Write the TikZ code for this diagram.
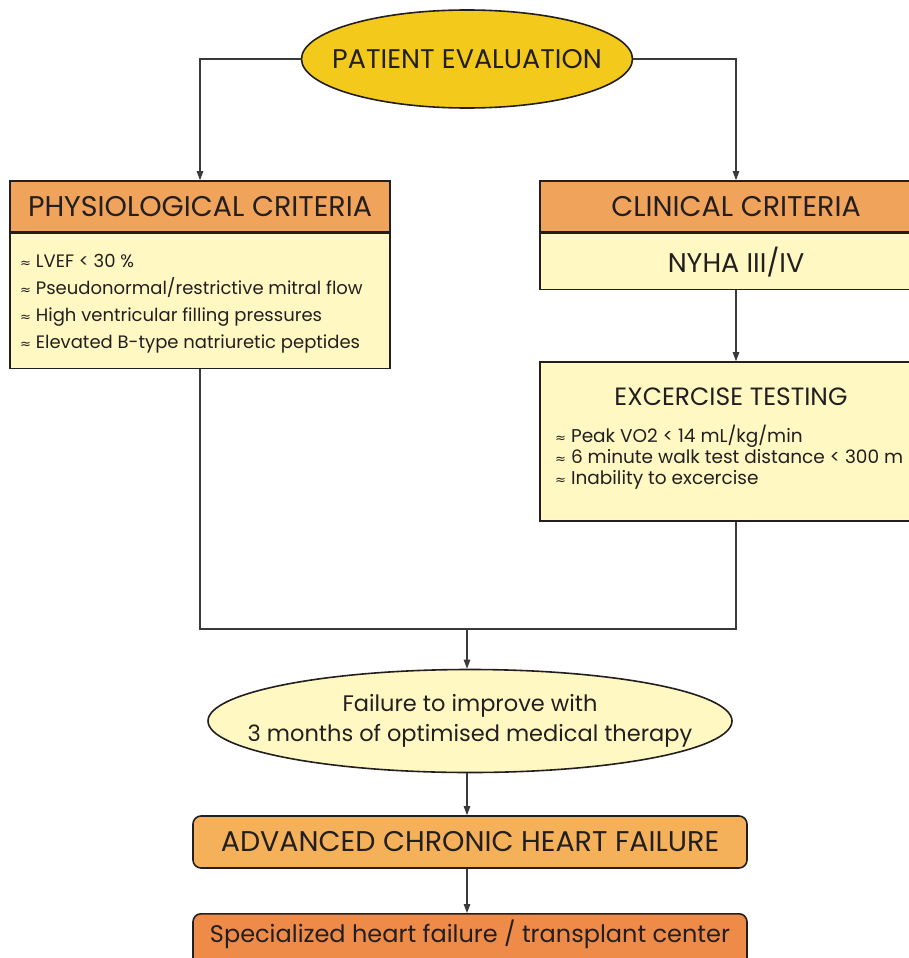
\documentclass[tikz,border=0pt]{standalone}
\usepackage{fontspec}
\setmainfont{Poppins}
\newfontfamily\symfont{DejaVu Sans}
\usetikzlibrary{shapes.geometric,arrows.meta,positioning,calc}
\definecolor{hfink}{HTML}{231F20}
\definecolor{hfline}{HTML}{3A3A3A}
\definecolor{hfgold}{HTML}{F3CA1C}
\definecolor{hforange}{HTML}{F0A35A}
\definecolor{hfcream}{HTML}{FFF8C2}
\definecolor{hfamber}{HTML}{F5B159}
\definecolor{hfrust}{HTML}{EE8B49}
\newcommand{\apx}{{\symfont\fontsize{13}{13}\selectfont ≈}\ }
\tikzset{
  evalnode/.style={ellipse,draw=hfink,line width=1.6pt,fill=hfgold,
                   minimum width=331,minimum height=98,inner xsep=-20pt,inner ysep=0pt,
                   font=\fontsize{27}{30}\selectfont,text=hfink},
  headbox/.style={rectangle,draw=hfink,line width=1.6pt,fill=hforange,
                  minimum height=51,inner sep=0pt,
                  font=\fontsize{28.5}{30}\selectfont,text=hfink},
  bodybox/.style={rectangle,draw=hfink,line width=1.6pt,fill=hfcream,
                  inner sep=0pt,text=hfink},
  itemtext/.style={align=left,inner sep=0pt,text=hfink},
  failnode/.style={ellipse,draw=hfink,line width=1.6pt,fill=hfcream,
                   minimum width=524,minimum height=103,inner xsep=-40pt,inner ysep=0pt,
                   align=center,font=\fontsize{22.5}{30}\selectfont,text=hfink},
  endbox/.style={rectangle,rounded corners=8pt,draw=hfink,line width=1.6pt,
                 minimum width=554,inner sep=0pt,text=hfink},
  flow/.style={-{Triangle[length=9pt,width=6.5pt]},line width=1.1pt,draw=hfline},
  link/.style={line width=1.1pt,draw=hfline},
}
\begin{document}
\begin{tikzpicture}[x=1pt,y=1pt]
\clip (0,0) rectangle (909,-958);
\fill[white] (0,0) rectangle (909,-958);

% top of the chart
\node[evalnode] (eval) at (467,-59) {PATIENT EVALUATION};

% left column
\node[headbox,minimum width=380] (physhead) at (200,-206.5) {PHYSIOLOGICAL CRITERIA};
\node[bodybox,minimum width=380,minimum height=135,anchor=north] (physbody) at (physhead.south) {};
\node[itemtext,anchor=west,font=\fontsize{18}{27}\selectfont] (physlist) at (20,-304)
  {\apx LVEF < 30 \%\\
   \apx Pseudonormal/restrictive mitral flow\\
   \apx High ventricular filling pressures\\
   \apx Elevated B-type natriuretic peptides};

% right column
\node[headbox,minimum width=392] (clinhead) at (736,-206.5) {CLINICAL CRITERIA};
\node[bodybox,minimum width=392,minimum height=56,anchor=north,
      font=\fontsize{27}{30}\selectfont] (nyha) at (clinhead.south) {NYHA III/IV};
\node[bodybox,minimum width=392,minimum height=159] (exbox) at (736,-441.5) {};
\node[font=\fontsize{25}{30}\selectfont,text=hfink] (extitle) at (731,-397) {EXCERCISE TESTING};
\node[itemtext,anchor=north west,font=\fontsize{18.5}{21}\selectfont] (exlist) at (555,-425)
  {\apx Peak VO2 < 14 mL/kg/min\\
   \apx 6 minute walk test distance < 300 m\\
   \apx Inability to excercise};

% bottom of the chart
\node[failnode] (fail) at (470,-721) {Failure to improve with\\3 months of optimised medical therapy};
\node[endbox,fill=hfamber,minimum height=52,font=\fontsize{28.5}{30}\selectfont] (achf) at (470,-842)
  {ADVANCED CHRONIC HEART FAILURE};
\node[endbox,fill=hfrust,anchor=north,inner ysep=10pt,text height=19pt,text depth=40pt,
      font=\fontsize{24}{30}\selectfont] (centre) at (470,-913)
  {Specialized heart failure / transplant center};

% connectors
\coordinate (merge) at (467,-629);
\draw[flow] (eval.west) -| (physhead.north);
\draw[flow] (eval.east) -| (clinhead.north);
\draw[flow] (nyha.south) -- (exbox.north);
\draw[link] (physbody.south) |- (exbox.south |- merge) -- (exbox.south);
\draw[flow] (merge) -- (merge |- fail.north);
\draw[flow] (fail.south -| merge) -- (achf.north -| merge);
\draw[flow] (achf.south -| merge) -- (centre.north -| merge);
\end{tikzpicture}
\end{document}
